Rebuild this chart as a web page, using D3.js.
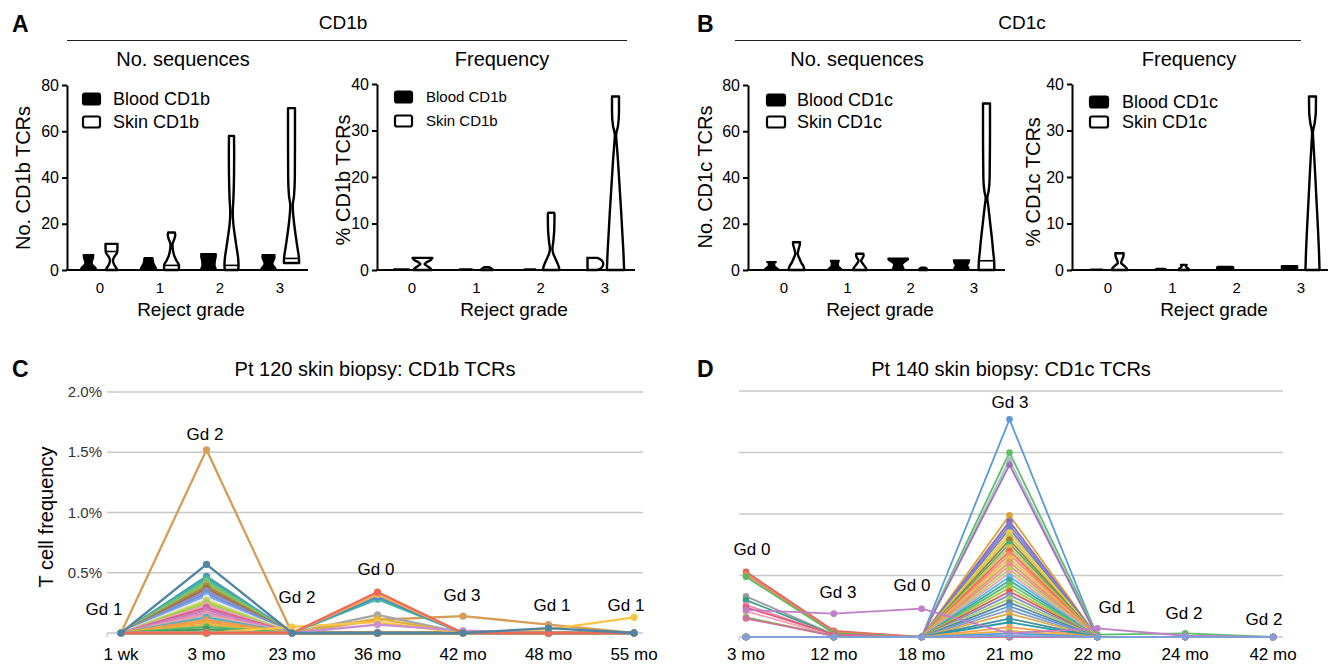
<!DOCTYPE html>
<html><head><meta charset="utf-8">
<script src="https://cdn.jsdelivr.net/npm/d3@7"></script>
<style>
body{margin:0;background:#fff}
svg{display:block}
text{font-family:"Liberation Sans",Arial,Helvetica,sans-serif;fill:#000}
</style>
</head><body>
<svg id="fig" width="1338" height="669"></svg>
<script>
// ---------------- DATA ----------------
const grades = ["0","1","2","3"];
const legendA = ["Blood CD1b","Skin CD1b"];
const legendB = ["Blood CD1c","Skin CD1c"];

// violin profiles: [value, relative density] from bottom to top
const a1Blood = [
  [[0,0.95],[1,0.85],[2,0.55],[3,0.4],[4,0.45],[5,0.55],[6.5,0.6]],
  [[0,0.95],[1,0.9],[2,0.75],[3,0.6],[4,0.55],[5.2,0.5]],
  [[0,0.95],[1,0.85],[2,0.75],[4,0.8],[6,0.9],[7,0.9]],
  [[0,0.95],[1,0.8],[2,0.55],[3,0.5],[4,0.6],[5.5,0.75],[6.5,0.75]]
];
const a1Skin = [
  [[0,0.7],[1,0.55],[2.5,0.3],[4,0.18],[5.5,0.3],[7,0.6],[8,0.7],[11.3,0.72]],
  [[0,0.8],[1,0.9],[2,0.9],[4,0.6],[6,0.35],[8,0.2],[11,0.12],[13,0.3],[15,0.45],[16.2,0.4]],
  [[0,0.8],[2,0.85],[5,0.8],[10,0.6],[15,0.4],[20,0.22],[25,0.15],[30,0.22],[40,0.3],[50,0.32],[58,0.3]],
  [[3,0.92],[5,0.9],[10,0.7],[15,0.5],[20,0.32],[25,0.18],[28,0.15],[32,0.3],[40,0.4],[60,0.42],[70,0.42]]
];
const a1Median = [8, 2, 2, 5];

const a2Blood = [
  [[0,0.9],[0.2,0.9]],
  [[0,0.8],[0.2,0.75]],
  [[0,0.7],[0.2,0.65]],
  [[0,0.6],[0.5,0.85],[1.3,0.95],[2.1,0.85],[2.6,0.6]]
];
const a2Skin = [
  [[0,1.1],[0.5,0.85],[1,0.45],[1.3,0.25],[1.6,0.45],[2.1,0.95],[2.6,1.2]],
  [[0,0.7],[0.2,0.65],[0.4,0.5],[0.6,0.3]],
  [[0,1.0],[0.5,0.95],[1.5,0.75],[2.5,0.5],[3.5,0.25],[4.5,0.15],[6,0.25],[9,0.38],[12,0.4],[12.3,0.35]],
  [[0,1.04],[4,0.95],[8,0.82],[12,0.7],[16,0.56],[20,0.42],[24,0.28],[27,0.15],[29,0.08],[31,0.3],[34,0.42],[37.3,0.42]]
];
const a2Median = [null, null, null, null];

const b1Blood = [
  [[0,0.95],[1,0.6],[2,0.35],[2.8,0.35],[3.5,0.55]],
  [[0,0.9],[1,0.6],[2,0.4],[3,0.4],[4,0.5]],
  [[0,0.75],[1.5,0.55],[2.5,0.5],[3.5,0.8],[4.5,1.2],[5,1.2]],
  [[0,0.9],[1,0.85],[2,0.7],[3,0.85],[4.3,0.95]]
];
const b1Skin = [
  [[0,0.95],[1.5,0.85],[3,0.6],[5,0.35],[7,0.15],[9,0.25],[11,0.4],[12,0.42]],
  [[0,0.85],[1,0.7],[2,0.5],[3,0.3],[4,0.15],[5,0.3],[6.3,0.45],[7,0.42]],
  [[0,0.5],[0.5,0.45],[1,0.25]],
  [[0,0.95],[4,0.92],[8,0.8],[12,0.7],[16,0.58],[20,0.45],[24,0.33],[28,0.2],[31,0.1],[34,0.25],[40,0.38],[60,0.42],[72,0.42]]
];
const b1Median = [null, null, null, 4];

const b2Blood = [
  [[0,0.75],[0.15,0.7]],
  [[0,0.65],[0.2,0.6],[0.3,0.4]],
  [[0,0.9],[0.3,1.0],[0.6,1.0],[0.7,0.9]],
  [[0,0.9],[0.4,0.95],[0.8,0.95],[0.9,0.9]]
];
const b2Skin = [
  [[0,0.95],[0.5,0.8],[1,0.5],[1.5,0.2],[2.2,0.3],[2.8,0.45],[3.6,0.5]],
  [[0,0.65],[0.3,0.55],[0.6,0.3],[0.9,0.25],[1.1,0.35]],
  [],
  [[0,0.85],[4,0.78],[8,0.68],[12,0.57],[16,0.45],[20,0.34],[24,0.22],[27,0.12],[29.5,0.05],[31.5,0.25],[34,0.4],[37.3,0.42]]
];
const b2Median = [null, null, null, null];

// Panel C
const cTimes = ["1 wk","3 mo","23 mo","36 mo","42 mo","48 mo","55 mo"];
const cGrades = ["Gd 1","Gd 2","Gd 2","Gd 0","Gd 3","Gd 1","Gd 1"];
const cSeries = [
  [0,1.52,0,0.11,0.14,0.07,0],
  [0,0.47,0,0,0,0,0],
  [0,0.45,0,0,0,0,0],
  [0,0.43,0,0,0,0,0],
  [0,0.41,0,0,0,0,0],
  [0,0.39,0,0,0,0,0],
  [0,0.37,0,0,0,0,0],
  [0,0.35,0,0,0,0,0],
  [0,0.33,0,0,0,0,0],
  [0,0.31,0,0,0,0,0],
  [0,0.29,0,0,0,0,0],
  [0,0.27,0,0,0,0,0],
  [0,0.25,0,0,0,0,0],
  [0,0.23,0,0,0,0,0],
  [0,0.21,0,0,0,0,0],
  [0,0.19,0,0,0,0,0],
  [0,0.17,0,0,0,0,0],
  [0,0.15,0,0,0,0,0],
  [0,0.13,0,0,0,0,0],
  [0,0.11,0,0,0,0,0],
  [0,0.09,0,0,0,0,0],
  [0,0.07,0,0,0,0,0],
  [0,0.05,0,0,0,0,0],
  [0,0.03,0,0,0,0,0],
  [0,0.00,0,0,0,0,0],
  [0,0,0,0.15,0,0,0],
  [0,0,0,0.12,0,0,0],
  [0,0,0.05,0.09,0,0.03,0.13],
  [0,0,0,0.07,0.02,0,0],
  [0,0,0,0.28,0,0,0],
  [0,0,0,0.30,0,0,0],
  [0,0,0,0.32,0,0,0],
  [0,0,0,0.34,0,0,0],
  [0,0.57,0,0,0,0.04,0]
];
const cColors = ["#d69c55","#3d9cbc","#45b3a0","#6cc47a","#8fbf5a","#b08a4a","#a0703a","#8e8fd0",
  "#6f8fd8","#7da6e6","#e4e9f6","#c7d650","#a4cc4e","#e6a3c8","#e0607e","#c47ec8","#d98cc0",
  "#f2a0a0","#3ab8cf","#f09a55","#f5a040","#e3b540","#56b870","#4a9e5a","#f0604d",
  "#a6a6a6","#e0b040","#f8c545","#c98fd0","#45b8a8","#4a8fbf","#f5a85a","#ef6a55","#4f84a3"];

// Panel D
const dTimes = ["3 mo","12 mo","18 mo","21 mo","22 mo","24 mo","42 mo"];
const dGrades = ["Gd 0","Gd 3","Gd 0","Gd 3","Gd 1","Gd 2","Gd 2"];
const dSeries = [
  [0,0,0,1.77,0,0,0],
  [0,0,0,1.50,0.02,0.03,0],
  [0,0,0,1.44,0,0,0],
  [0,0,0,1.40,0,0,0],
  [0,0,0,0.99,0,0,0],
  [0,0,0,0.94,0,0,0],
  [0,0,0,0.91,0,0,0],
  [0,0,0,0.88,0,0,0],
  [0,0,0,0.85,0,0,0],
  [0,0,0,0.82,0,0,0],
  [0,0,0,0.79,0,0,0],
  [0,0,0,0.76,0,0,0],
  [0,0,0,0.73,0,0,0],
  [0,0,0,0.70,0,0,0],
  [0,0,0,0.67,0,0,0],
  [0,0,0,0.64,0,0,0],
  [0,0,0,0.61,0,0,0],
  [0,0,0,0.58,0,0,0],
  [0,0,0,0.55,0,0,0],
  [0,0,0,0.52,0,0,0],
  [0,0,0,0.49,0,0,0],
  [0,0,0,0.46,0,0,0],
  [0,0,0,0.43,0,0,0],
  [0,0,0,0.40,0,0,0],
  [0,0,0,0.37,0,0,0],
  [0,0,0,0.34,0,0,0],
  [0,0,0,0.31,0,0,0],
  [0,0,0,0.28,0,0,0],
  [0,0,0,0.25,0,0,0],
  [0,0,0,0.22,0,0,0],
  [0,0,0,0.19,0,0,0],
  [0,0,0,0.15,0,0,0],
  [0,0,0,0.12,0,0,0],
  [0,0,0,0.08,0,0,0],
  [0,0,0,0.05,0,0,0],
  [0,0,0,0.03,0,0,0],
  [0,0,0,0.00,0,0,0],
  [0.53,0.05,0,0,0,0,0],
  [0.51,0.04,0,0,0,0,0],
  [0.49,0.03,0,0,0,0,0],
  [0.33,0.02,0,0,0,0,0],
  [0.30,0.02,0,0,0,0,0],
  [0.26,0.02,0,0,0,0,0],
  [0.24,0.02,0,0,0,0,0],
  [0.21,0.01,0,0,0,0,0],
  [0.16,0.01,0,0,0,0,0],
  [0.15,0.01,0,0,0,0,0],
  [0.22,0.19,0.23,0.03,0.07,0.01,0],
  [0,0,0,0.01,0,0,0]
];
const dColors = ["#5b9bd5","#5cbf6a","#a8c0b8","#a070c0","#e0a030","#7f6fc0","#8a78d0","#6a84c8",
  "#f5c842","#c8cc50","#a87a3a","#50b070","#d0c050","#f06a50","#f48a70","#e8c050","#d8a060",
  "#f08898","#b0d050","#f0a0a8","#5cb8e8","#40a8a0","#60c070","#a0c840","#e05850","#8090d0",
  "#a8d060","#6080a0","#5a98d8","#90a0c0","#e0a840","#4090a0","#2a9aa8","#f0a050","#e8b040",
  "#5b9bd5","#e05050",
  "#e0605a","#f07c5a","#5cb860","#9a9a9a","#3a9e8e","#e88aa8","#e05a70","#f0a0b8","#7ab84a",
  "#d070a0","#c07ec8","#7f9fd8"];

const pctTicks = [0.5, 1.0, 1.5, 2.0];

// ---------------- DRAWING ----------------
const svg = d3.select("#fig");
const FONT = '"Liberation Sans",Arial,Helvetica,sans-serif';

function txt(g, x, y, s, size, anchor, extra) {
  const t = g.append("text").attr("x", x).attr("y", y).attr("font-size", size)
    .attr("text-anchor", anchor || "middle").text(s);
  if (extra) extra(t);
  return t;
}

// panel letters
[["A",12,32],["B",697,32],["C",12,377],["D",697,377]].forEach(([s,x,y]) =>
  txt(svg, x, y, s, 23, "start", t => t.attr("font-weight", "bold")));

// group titles with rule
txt(svg, 343, 29, "CD1b", 19);
svg.append("line").attr("x1", 67).attr("x2", 627).attr("y1", 40.5).attr("y2", 40.5).attr("stroke", "#222").attr("stroke-width", 1.2);
txt(svg, 1022, 29, "CD1c", 19);
svg.append("line").attr("x1", 735).attr("x2", 1301).attr("y1", 40.5).attr("y2", 40.5).attr("stroke", "#222").attr("stroke-width", 1.2);

function violinPanel(cfg, blood, skin, medians, legend) {
  const g = svg.append("g");
  const y = d3.scaleLinear().domain([0, cfg.max]).range([cfg.y0, cfg.yTop]);
  const x = d3.scalePoint().domain(grades).range(cfg.range);
  const hw = d3.scaleLinear().domain([0, 1]).range([0, 8.3]);

  // axes
  const ax = g.append("g").attr("transform", `translate(${cfg.ax},0)`)
    .call(d3.axisLeft(y).tickValues(cfg.ticks).tickSize(5).tickSizeOuter(0).tickPadding(3));
  ax.select(".domain").attr("stroke", "#000").attr("stroke-width", 2);
  ax.selectAll(".tick line").attr("stroke", "#000").attr("stroke-width", 2);
  ax.selectAll(".tick text").attr("font-size", 16).attr("font-family", FONT).attr("fill", "#000");
  g.append("line").attr("x1", cfg.ax - 1).attr("x2", cfg.xEnd).attr("y1", cfg.y0).attr("y2", cfg.y0)
    .attr("stroke", "#000").attr("stroke-width", 2);

  grades.forEach(gr => txt(g, x(gr), 293, gr, 15));
  txt(g, cfg.xlabX, 316, "Reject grade", 19);
  txt(g, cfg.titleX, 66, cfg.title, 20);
  txt(g, 0, 0, cfg.ylabel, 20, "middle", t => t.attr("transform", `translate(${cfg.ylabX},${cfg.ylabY}) rotate(-90)`));

  const area = cx => d3.area().curve(d3.curveMonotoneY)
    .y(d => y(d[0])).x0(d => cx - hw(d[1])).x1(d => cx + hw(d[1]));

  grades.forEach((gr, i) => {
    const cb = x(gr) - cfg.off, cs = x(gr) + cfg.off;
    const pb = blood[i];
    if (pb.length) {
      if (cfg.hollow && cfg.hollow.includes(gr)) {
        const left = cb - 7;
        g.append("path").datum(pb)
          .attr("d", d3.area().curve(d3.curveMonotoneY).y(d => y(d[0])).x0(() => left).x1(d => left + 2 * hw(d[1])))
          .attr("fill", "#fff").attr("stroke", "#000").attr("stroke-width", 2.4);
      } else {
        g.append("path").datum(pb).attr("d", area(cb))
          .attr("fill", "#000").attr("stroke", "#000").attr("stroke-width", 1.8).attr("stroke-linejoin", "round");
      }
    }
    const ps = skin[i];
    if (ps.length) {
      g.append("path").datum(ps).attr("d", area(cs))
        .attr("fill", "#fff").attr("stroke", "#000").attr("stroke-width", 2.4).attr("stroke-linejoin", "round");
      const m = medians[i];
      if (m != null) {
        const wi = d3.scaleLinear().domain(ps.map(p => p[0])).range(ps.map(p => p[1]));
        g.append("line").attr("x1", cs - hw(wi(m))).attr("x2", cs + hw(wi(m)))
          .attr("y1", y(m)).attr("y2", y(m)).attr("stroke", "#000").attr("stroke-width", 1.6);
      }
    }
  });

  // legend
  legend.forEach((lab, i) => {
    const ly = cfg.legY[i];
    g.append("rect").attr("x", cfg.legX).attr("y", ly - 5.5).attr("width", cfg.legW).attr("height", 11).attr("rx", 2)
      .attr("fill", i === 0 ? "#000" : "#fff").attr("stroke", "#000").attr("stroke-width", 2.2);
    txt(g, cfg.legTX, ly + cfg.legF * 0.36, lab, cfg.legF, "start");
  });
}

violinPanel({ax:67, xEnd:308, y0:270, yTop:85, max:80, ticks:[0,20,40,60,80], range:[100,280], off:11.5,
  title:"No. sequences", titleX:183, xlabX:191, ylabel:"No. CD1b TCRs", ylabX:30, ylabY:178,
  legX:83, legW:17, legTX:113, legY:[99,122], legF:18}, a1Blood, a1Skin, a1Median, legendA);
violinPanel({ax:377, xEnd:635, y0:270, yTop:84, max:40, ticks:[0,10,20,30,40], range:[412,605], off:10.5,
  title:"Frequency", titleX:502, xlabX:514, ylabel:"% CD1b TCRs", ylabX:350, ylabY:180, hollow:["3"],
  legX:395, legW:17, legTX:426, legY:[97,121], legF:15}, a2Blood, a2Skin, a2Median, legendA);
violinPanel({ax:748, xEnd:1005, y0:270, yTop:85, max:80, ticks:[0,20,40,60,80], range:[784,974], off:12.5,
  title:"No. sequences", titleX:857, xlabX:880, ylabel:"No. CD1c TCRs", ylabX:712, ylabY:177,
  legX:767, legW:18, legTX:797, legY:[100,122], legF:18}, b1Blood, b1Skin, b1Median, legendB);
violinPanel({ax:1072, xEnd:1328, y0:270, yTop:84, max:40, ticks:[0,10,20,30,40], range:[1108,1301], off:11.5,
  title:"Frequency", titleX:1189, xlabX:1214, ylabel:"% CD1c TCRs", ylabX:1040, ylabY:182,
  legX:1090, legW:18, legTX:1122, legY:[102,122], legF:18}, b2Blood, b2Skin, b2Median, legendB);

function linePanel(cfg, times, series, colors, gradeLabels) {
  const g = svg.append("g");
  const x = d3.scalePoint().domain(times).range(cfg.range);
  const y = d3.scaleLinear().domain([0, 2]).range([cfg.y0, cfg.y2]);
  txt(g, (cfg.gx0 + cfg.gx1) / 2, 376, cfg.title, 20);
  pctTicks.forEach(v => {
    g.append("line").attr("x1", cfg.gx0).attr("x2", cfg.gx1).attr("y1", y(v)).attr("y2", y(v))
      .attr("stroke", "#c8c8c8").attr("stroke-width", 1.3);
    if (cfg.labels) txt(g, cfg.gx0 - 5, y(v) + 5, d3.format(".1%")(v / 100), 15, "end", t => t.style("fill", "#333"));
  });
  g.append("line").attr("x1", cfg.gx0).attr("x2", cfg.gx1).attr("y1", y(0)).attr("y2", y(0))
    .attr("stroke", "#b9c9e0").attr("stroke-width", 1.5);
  g.append("line").attr("x1", cfg.gx0).attr("x2", cfg.gx0).attr("y1", y(0)).attr("y2", y(0) + 4)
    .attr("stroke", "#b9c9e0").attr("stroke-width", 1.2);
  times.forEach(t => txt(g, x(t), 660, t, 17));
  if (cfg.ylabel) txt(g, 0, 0, cfg.ylabel, 20, "middle", t => t.attr("transform", `translate(53,517) rotate(-90)`));

  const line = d3.line().x((d, i) => x(times[i])).y(d => y(d));
  series.forEach((s, k) => {
    const c = colors[k % colors.length];
    g.append("path").datum(s).attr("d", line).attr("fill", "none").attr("stroke", c)
      .attr("stroke-width", cfg.lw).attr("stroke-linejoin", "round");
    g.selectAll(null).data(s).enter().append("circle")
      .attr("cx", (d, i) => x(times[i])).attr("cy", d => y(d)).attr("r", cfg.r).attr("fill", c);
  });
  gradeLabels.forEach((lab, i) => txt(g, cfg.gdX[i], cfg.gdY[i], lab, 17));
}

linePanel({range:[121,634], gx0:107, gx1:643, y0:633, y2:392, title:"Pt 120 skin biopsy: CD1b TCRs",
  labels:true, ylabel:"T cell frequency", lw:2.3, r:3.6,
  gdX:[104,205,297,376,462,552,626], gdY:[615,440,603,575,601,611,611]}, cTimes, cSeries, cColors, cGrades);
linePanel({range:[746,1273], gx0:739, gx1:1283, y0:637, y2:391, title:"Pt 140 skin biopsy: CD1c TCRs",
  labels:false, lw:1.8, r:3.3,
  gdX:[752,838,912,1010,1117,1184,1264], gdY:[555,598,591,408,613,619,625]}, dTimes, dSeries, dColors, dGrades);
</script>
</body></html>
